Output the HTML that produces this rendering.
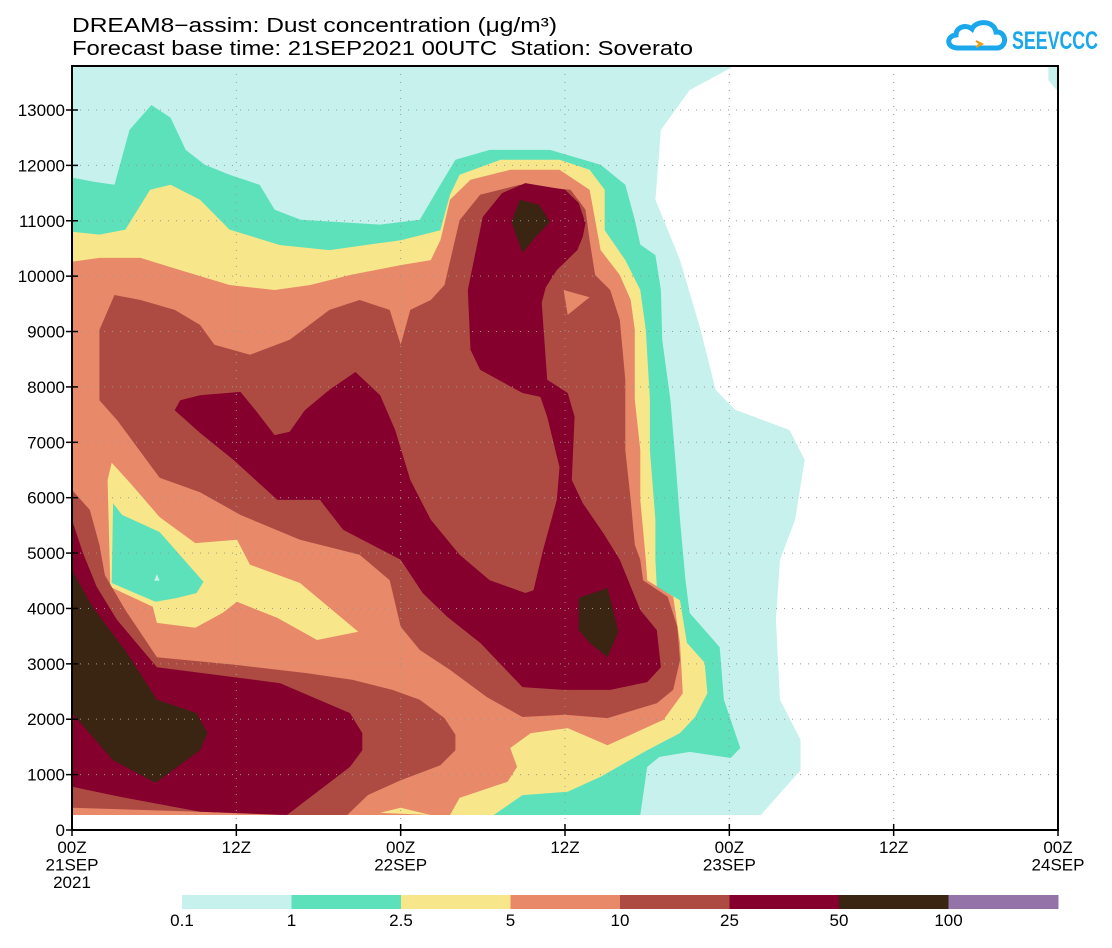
<!DOCTYPE html>
<html><head><meta charset="utf-8"><title>DREAM8 dust concentration</title>
<style>
html,body{margin:0;padding:0;background:#fff;}
body{width:1112px;height:943px;overflow:hidden;font-family:"Liberation Sans",sans-serif;}
svg text{font-family:"Liberation Sans",sans-serif;fill:#000;}
</style></head>
<body>
<svg id="chart" width="1112" height="943" viewBox="0 0 1112 943" xmlns="http://www.w3.org/2000/svg">
  <defs><clipPath id="plotclip"><rect x="72" y="66" width="986" height="764"/></clipPath></defs>
  <text x="72" y="32" font-size="20" textLength="485" lengthAdjust="spacingAndGlyphs">DREAM8−assim: Dust concentration (μg/m³)</text>
  <text x="72" y="55" font-size="20" textLength="621" lengthAdjust="spacingAndGlyphs" xml:space="preserve">Forecast base time: 21SEP2021 00UTC  Station: Soverato</text>
  <g>
    <path d="M958,48 C946,48 946,36 956,35 C956,27 966,24 972,29 C976,20 994,20 996,32 C1006,31 1008,46 998,48 Z" fill="none" stroke="#1aa7ec" stroke-width="5"/>
    <path d="M976,41 L982,44 L976,47 L980,44 Z" fill="#e8a21a" stroke="#e8a21a" stroke-width="2"/>
    <text x="1012" y="49" font-size="25" font-weight="bold" fill="#1aa7ec" style="fill:#1aa7ec" textLength="86" lengthAdjust="spacingAndGlyphs">SEEVCCC</text>
  </g>
  <g id="layers" clip-path="url(#plotclip)"></g>
  <g id="grid"></g>
  <rect x="72" y="66" width="986" height="764" fill="none" stroke="#000" stroke-width="2"/>
  <g id="axes"></g>
  <g id="legend"></g>
</svg>
<script>
// ---- data (hours since 00Z 21SEP, height km) ----
const levelLabels = ["0.1","1","2.5","5","10","25","50","100"];
const levelColors = ["#c6f1ec","#5ce1bb","#f7e68a","#e8896a","#ad4b43","#85002d","#3a2513","#9473a8"];
const yTicks = [0,1000,2000,3000,4000,5000,6000,7000,8000,9000,10000,11000,12000,13000];
const xTickHours = [0,12,24,36,48,60,72];
const xTickLabels = [["00Z","21SEP","2021"],["12Z"],["00Z","22SEP"],["12Z"],["00Z","23SEP"],["12Z"],["00Z","24SEP"]];

const regionCyan = [[0,13.8],[48.4,13.8],[45.1,13.36],[43.0,12.64],[42.6,11.38],[44.4,10.29],[45.9,9.03],[47.0,7.95],[48.4,7.59],[52.4,7.22],[53.5,6.68],[52.8,5.60],[51.7,4.88],[51.4,3.79],[51.7,2.35],[53.2,1.63],[53.2,1.08],[50.3,0.27],[0,0.27]];
const regionCyanCorner = [[71.3,13.8],[72,13.8],[72,13.33],[71.3,13.54]];
const regionGreen = [[0,11.78],[1.7,11.70],[3.1,11.65],[4.2,12.64],[5.8,13.09],[7.2,12.86],[8.3,12.28],[9.7,12.01],[11.5,11.83],[13.7,11.65],[14.8,11.20],[16.7,11.02],[22.5,10.93],[25.4,11.02],[26.9,11.65],[28.0,12.10],[30.5,12.28],[34.9,12.28],[38.6,12.01],[40.4,11.65],[41.1,11.02],[41.5,10.57],[42.6,10.38],[43.0,9.75],[43.1,8.85],[43.7,7.77],[44.0,6.86],[44.4,5.60],[44.8,4.51],[45.1,3.92],[47.3,3.30],[47.6,2.35],[48.1,1.99],[48.8,1.48],[48.1,1.30],[45.1,1.41],[42.9,1.32],[42.0,1.14],[41.5,0.27],[0,0.27]];
const regionYellow = [[0,10.80],[2.0,10.75],[3.9,10.84],[5.7,11.56],[7.2,11.65],[9.35,11.38],[11.5,10.84],[15.2,10.56],[18.8,10.47],[24.0,10.65],[26.9,10.83],[27.6,11.47],[28.3,11.83],[31.3,12.10],[35.6,12.10],[37.8,11.92],[38.9,11.56],[38.9,10.83],[40.4,10.29],[41.5,9.75],[41.9,9.03],[42.2,7.77],[42.2,6.86],[42.6,5.60],[42.6,4.88],[42.7,4.39],[44.4,4.15],[44.9,3.38],[46.2,3.02],[46.4,2.47],[45.5,2.04],[44.4,1.75],[42.0,1.44],[38.6,0.96],[36.2,0.69],[32.9,0.63],[30.8,0.27],[0,0.27]];
const regionSalmon = [[0,10.26],[2.0,10.33],[5.0,10.33],[7.9,10.11],[11.5,9.84],[14.8,9.75],[17.4,9.84],[20.3,10.02],[24.0,10.20],[26.2,10.29],[26.9,10.65],[27.6,11.38],[29.1,11.74],[32.0,11.92],[35.6,11.92],[37.8,11.56],[38.2,11.02],[38.6,10.47],[40.0,10.02],[40.8,9.57],[41.1,9.03],[41.1,7.77],[41.5,6.86],[41.5,5.96],[41.9,4.88],[42.0,4.51],[43.9,4.21],[44.4,3.38],[44.6,2.47],[43.2,1.99],[39.1,1.53],[36.2,1.84],[33.5,1.75],[32.0,1.48],[32.5,1.14],[31.8,0.87],[28.3,0.58],[27.6,0.27],[0,0.27]];
const regionYellowBottom = [[22.5,0.31],[24.0,0.40],[26.2,0.27]];
const regionYellowLeft = [[2.9,6.63],[2.6,6.32],[2.8,4.39],[5.9,4.03],[6.2,3.74],[9.0,3.65],[11.0,3.92],[12.05,4.12],[15.0,3.83],[17.9,3.43],[20.9,3.58],[16.65,4.46],[13.0,4.79],[12.05,5.24],[9.0,5.18],[6.4,5.65],[4.2,6.28]];
const regionGreenLeft = [[3.0,5.90],[2.9,4.46],[6.1,4.12],[7.7,4.19],[9.1,4.28],[9.6,4.48],[6.4,5.38],[3.65,5.69]];
const regionCyanDot = [[6.0,4.50],[6.4,4.50],[6.2,4.62]];
const regionBrownUpper = [[2.0,9.03],[3.1,9.66],[5.0,9.57],[7.5,9.39],[9.35,9.12],[10.4,8.76],[13.0,8.58],[15.9,8.85],[18.8,9.39],[21.0,9.57],[23.2,9.39],[24.0,8.76],[24.7,9.39],[26.2,9.57],[27.2,9.84],[28.3,11.01],[29.8,11.47],[32.7,11.65],[36.4,11.56],[37.5,11.20],[37.8,10.65],[38.2,10.02],[39.3,9.75],[40.0,9.21],[40.4,8.13],[40.4,6.86],[40.8,5.96],[41.1,5.15],[41.5,4.88],[41.7,4.51],[43.5,4.21],[44.2,3.67],[44.4,3.07],[43.9,2.53],[42.7,2.29],[39.1,2.02],[36.0,2.08],[32.9,2.04],[30.3,2.40],[27.6,2.89],[25.4,3.25],[24.0,3.67],[23.2,4.51],[21.0,4.97],[16.65,5.24],[12.3,5.69],[9.35,6.10],[6.4,6.36],[3.3,7.40],[2.0,7.76]];
const regionBrownLower = [[0,6.14],[1.3,5.78],[2.0,5.15],[2.4,4.60],[3.9,3.97],[6.2,3.12],[12.05,2.98],[17.2,2.83],[20.5,2.71],[23.4,2.53],[25.4,2.35],[27.2,2.02],[28.0,1.72],[28.0,1.44],[26.9,1.17],[24.0,0.90],[21.6,0.63],[20.1,0.27],[0,0.27]];
const regionSalmonStrip = [[0,0.40],[9.35,0.33],[15.2,0.27],[0,0.27]];
const regionDarkRedLower = [[0,5.60],[0.8,5.00],[1.8,4.39],[3.3,3.79],[6.2,2.94],[11.8,2.76],[15.2,2.65],[20.3,2.11],[21.2,1.75],[21.2,1.44],[20.3,1.14],[15.7,0.27],[9.35,0.33],[3.5,0.60],[0,0.78]];
const regionDarkBrownLower = [[0,4.69],[1.5,4.03],[4.0,3.20],[6.2,2.35],[9.1,2.11],[9.9,1.75],[9.35,1.44],[6.1,0.85],[3.0,1.26],[0,2.11]];
const regionDarkRedMain = [[7.5,7.58],[7.9,7.76],[9.35,7.85],[12.3,7.91],[13.4,7.58],[14.8,7.13],[15.9,7.19],[17.0,7.58],[18.8,7.95],[20.7,8.27],[22.5,7.85],[23.6,7.22],[24.7,6.32],[26.2,5.60],[28.3,4.97],[30.5,4.51],[33.1,4.28],[33.7,4.33],[34.4,5.06],[35.4,5.96],[35.6,6.55],[34.7,7.46],[34.2,7.82],[32.9,7.89],[29.8,8.31],[29.1,8.67],[28.9,9.75],[30.0,11.07],[31.4,11.50],[33.1,11.68],[36.0,11.56],[37.0,11.32],[37.5,10.96],[37.3,10.71],[36.9,10.47],[35.4,10.11],[34.6,9.80],[34.3,9.52],[34.7,8.13],[36.2,7.89],[36.7,7.46],[36.5,6.32],[37.3,5.90],[38.8,5.36],[40.0,4.88],[41.5,3.97],[42.7,3.61],[43.0,2.94],[42.0,2.67],[39.3,2.53],[35.9,2.53],[32.9,2.58],[29.8,3.38],[27.4,3.85],[25.6,4.28],[24.0,4.88],[19.8,5.42],[18.1,5.96],[15.0,5.96],[11.8,6.68],[9.35,7.17]];
const regionSalmonPatch = [[35.9,9.75],[37.8,9.62],[36.2,9.30]];
const regionDarkBrownTop = [[32.7,11.38],[34.1,11.29],[34.9,10.98],[33.8,10.69],[32.9,10.42],[32.1,10.98]];
const regionDarkBrownMid = [[37.0,4.19],[39.1,4.37],[39.9,3.58],[39.1,3.12],[37.8,3.38],[37.0,3.61]];

// ---- axes ----
const X0=72, X1=1058, Y0=830, Y13=110;
function xs(h){ return X0 + h*(X1-X0)/72; }
function ys(km){ return Y0 - km*(Y0-Y13)/13; }
const NS="http://www.w3.org/2000/svg";
function mk(tag, attrs, parent){ const e=document.createElementNS(NS,tag); for(const k in attrs) e.setAttribute(k,attrs[k]); parent.appendChild(e); return e; }

const layers = document.getElementById('layers');
const paint = [
  [regionCyan,0,'region-above-0.1'],[regionCyanCorner,0,'region-above-0.1-corner'],
  [regionGreen,1,'region-above-1'],[regionYellow,2,'region-above-2.5'],
  [regionSalmon,3,'region-above-5'],[regionYellowBottom,2,'region-above-2.5-bottom'],
  [regionBrownUpper,4,'region-above-10-upper'],[regionYellowLeft,2,'region-2.5-pocket'],
  [regionGreenLeft,1,'region-1-pocket'],[regionCyanDot,0,'region-0.1-pocket'],
  [regionBrownLower,4,'region-above-10-lower'],[regionSalmonStrip,3,'region-5-strip'],
  [regionDarkRedLower,5,'region-above-25-lower'],[regionDarkBrownLower,6,'region-above-50-lower'],
  [regionDarkRedMain,5,'region-above-25-main'],[regionSalmonPatch,3,'region-5-patch'],
  [regionDarkBrownTop,6,'region-above-50-top'],[regionDarkBrownMid,6,'region-above-50-mid']
];
paint.forEach(p=>{
  const pts = p[0].map(d=>xs(d[0]).toFixed(1)+','+ys(d[1]).toFixed(1)).join(' ');
  const el = mk('polygon',{points:pts, fill:levelColors[p[1]]}, layers);
  
  
});

// grid
const grid = document.getElementById('grid');
yTicks.forEach(v=>{ if(v===0) return;
  const g = mk('line',{x1:X0,x2:X1,y1:ys(v/1000),y2:ys(v/1000),stroke:'#999','stroke-width':1,'stroke-dasharray':'1,7'},grid);
  
  
});
xTickHours.forEach(h=>{ if(h===0||h===72) return;
  const g = mk('line',{x1:xs(h),x2:xs(h),y1:66,y2:Y0,stroke:'#999','stroke-width':1,'stroke-dasharray':'1,7'},grid);
  
  
});

// axes
const axes = document.getElementById('axes');
yTicks.forEach(v=>{
  const y=ys(v/1000);
  const t = mk('line',{x1:66,x2:78,y1:y,y2:y,stroke:'#000','stroke-width':1.5},axes);
  
  
  const l = mk('text',{x:65,y:y+6,'text-anchor':'end','font-size':17},axes);
  l.textContent = v;
  
  
});
xTickHours.forEach((h,i)=>{
  const x=xs(h);
  const t = mk('line',{x1:x,x2:x,y1:824,y2:836,stroke:'#000','stroke-width':1.5},axes);
  
  
  xTickLabels[i].forEach((s,j)=>{
    const l = mk('text',{x:x,y:853+j*17.5,'text-anchor':'middle','font-size':17},axes);
    l.textContent = s;
    
    
  });
});

// legend
const legend = document.getElementById('legend');
const LX0=182, LX1=1058, segW=(LX1-LX0)/levelColors.length;
levelColors.forEach((c,i)=>{
  const r = mk('rect',{x:LX0+i*segW,y:895,width:segW+0.5,height:14,fill:c},legend);
  
  
  const l = mk('text',{x:LX0+i*segW,y:926,'text-anchor':'middle','font-size':17},legend);
  l.textContent = levelLabels[i];
  
  
});
</script>
</body></html>
